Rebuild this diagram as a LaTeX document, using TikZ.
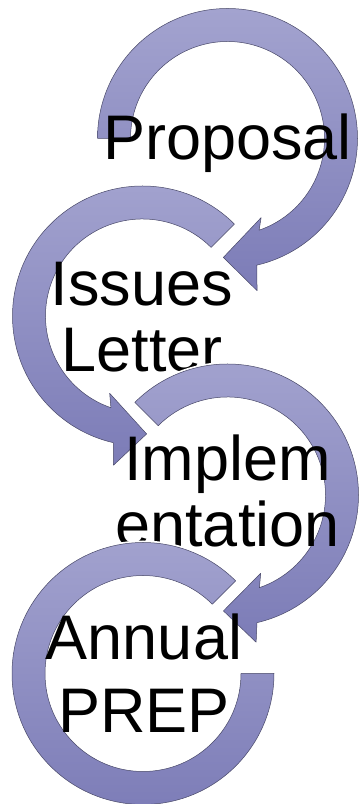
\documentclass[tikz,border=0pt]{standalone}
\usepackage{fontspec}
\setmainfont{Liberation Sans}
\definecolor{ringtop}{RGB}{163,163,207}
\definecolor{ringbot}{RGB}{124,124,183}
\definecolor{ringline}{RGB}{72,72,104}

\begin{document}
\begin{tikzpicture}[x=1pt, y=1pt,
    ring/.style={top color=ringtop, bottom color=ringbot, draw=ringline,
      line width=0.5pt, line join=round, preaction={draw=white, line width=4pt}},
    steplabel/.style={font=\fontsize{63}{66}\selectfont, align=center,
      anchor=base, inner sep=0pt}]
  \useasboundingbox (0,0) rectangle (360,804);
  % clockwise, from the left
  \path[ring, shift={(227.5,665.5)}] (180:97) -- (180:130)
    arc[start angle=180, end angle=-77, radius=130] -- (-79:155) -- (-92:119)
    -- (-67:86) -- (-71:97) arc[start angle=-71, end angle=180, radius=97] -- cycle;
  \node[steplabel] (proposal) at (227.5,644) {Proposal};
  % anticlockwise, from the top right
  \path[ring, shift={(142.5,488)}] (45:97) -- (45:130)
    arc[start angle=45, end angle=257, radius=130] -- (259:152) -- (272:118)
    -- (247:84) -- (251:97) arc[start angle=251, end angle=45, radius=97] -- cycle;
  \node[steplabel] (issues) at (142,432) {Issues\\Letter};
  % clockwise, from the top left
  \path[ring, shift={(227.5,309)}] (135:98) -- (135:131)
    arc[start angle=135, end angle=-77, radius=131] -- (-79:150) -- (-92:116)
    -- (-67:85) -- (-71:98) arc[start angle=-71, end angle=135, radius=98] -- cycle;
  \node[steplabel] (implementation) at (227.5,257) {Implem\\entation};
  % last one, no head
  \path[ring, shift={(143,130.5)}] (45:98) -- (45:131)
    arc[start angle=45, end angle=360, radius=131] -- (0:98)
    arc[start angle=360, end angle=45, radius=98] -- cycle;
  \node[steplabel, font=\fontsize{63}{73}\selectfont] (annual) at (144,71) {Annual\\PREP};
\end{tikzpicture}
\end{document}
